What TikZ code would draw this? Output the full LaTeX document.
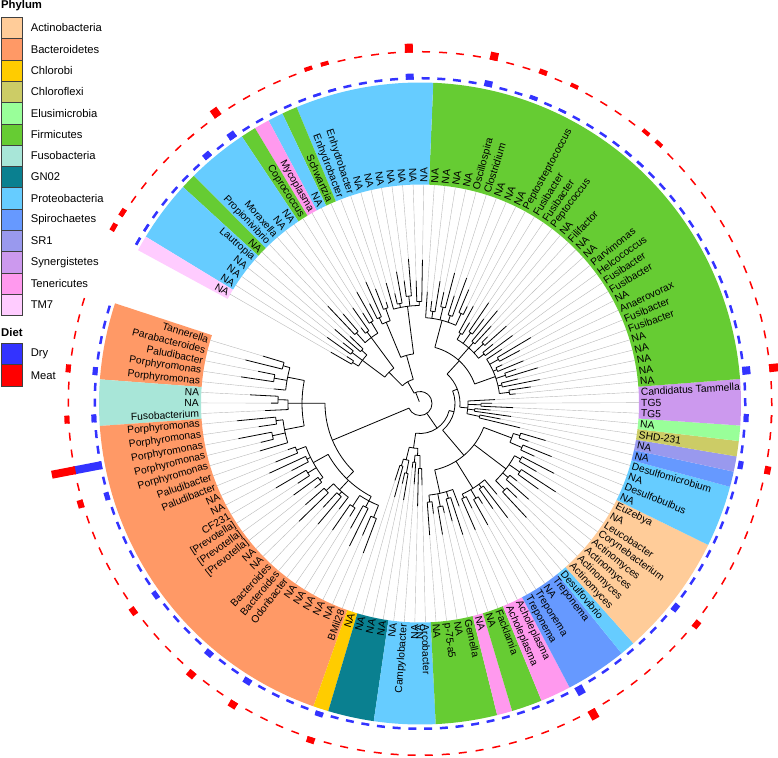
\documentclass[tikz,border=0pt]{standalone}
\usepackage{fontspec}
\setmainfont{Liberation Sans}
\usetikzlibrary{positioning}

\definecolor{cActino}{HTML}{FFCC99}
\definecolor{cBacter}{HTML}{FF9966}
\definecolor{cChlorobi}{HTML}{FFCC00}
\definecolor{cChloroflexi}{HTML}{CCCC66}
\definecolor{cElusi}{HTML}{99FF99}
\definecolor{cFirmi}{HTML}{66CC33}
\definecolor{cFuso}{HTML}{A8E6D8}
\definecolor{cGN}{HTML}{0A8090}
\definecolor{cProteo}{HTML}{66CCFF}
\definecolor{cSpiro}{HTML}{6699FF}
\definecolor{cSR}{HTML}{9999EE}
\definecolor{cSynerg}{HTML}{CC99EE}
\definecolor{cTeneri}{HTML}{FF99EE}
\definecolor{cTM}{HTML}{FFCCFF}
\definecolor{cDry}{HTML}{3333FF}
\definecolor{cMeat}{HTML}{FF0000}

\def\angstart{163.2}
\def\angstep{2.775}
\def\rin{219}
\def\rout{321}
\def\rdry{324}
\def\rmeat{351}

% terminal branch of tip #1 starting at radius #2
\newcommand\tipline[2]{%
  \pgfmathsetmacro\tipang{\angstart+(#1-1)*\angstep}%
  \pgfmathsetmacro\rtip{#2+6+mod(#1*53,37)}%
  \draw[branch] (\tipang:#2) -- (\tipang:\rtip);
  \draw[guide] (\tipang:\rtip) -- (\tipang:\rin);
}

\begin{document}
\begin{tikzpicture}[x=1pt, y=1pt,
  branch/.style={black, line width=0.8pt},
  guide/.style={gray!55, line width=0.4pt},
  tiplab/.style={font=\fontsize{10.3}{12}\selectfont, inner sep=1pt},
  legbox/.style={draw=black!75, line width=0.6pt, minimum width=21pt, minimum height=21.3pt, inner sep=0pt},
  leglab/.style={font=\fontsize{11.2}{13}\selectfont, inner sep=0pt},
  legtitle/.style={font=\bfseries\fontsize{11.3}{13}\selectfont, inner sep=0pt},
  drybar/.style={cDry, line width=8pt},
  meatbar/.style={cMeat, line width=8pt}]
\useasboundingbox (0,0) rectangle (778,-757);

% legend
\node[legtitle, anchor=west] (phylum) at (1,-6) {Phylum};
\foreach \col/\name [count=\i from 0] in {cActino/Actinobacteria, cBacter/Bacteroidetes,
    cChlorobi/Chlorobi, cChloroflexi/Chloroflexi, cElusi/Elusimicrobia, cFirmi/Firmicutes,
    cFuso/Fusobacteria, cGN/GN02, cProteo/Proteobacteria, cSpiro/Spirochaetes, cSR/SR1,
    cSynerg/Synergistetes, cTeneri/Tenericutes, cTM/TM7}{
  \node[legbox, fill=\col, anchor=north west] (box\i) at (1,{-17-21.3*\i}) {};
  \node[leglab, right=8pt of box\i] (name\i) {\name};
}
\node[legtitle, anchor=west] (diet) at (1,-332) {Diet};
\node[legbox, fill=cDry, anchor=north west] (dry) at (1,-343) {};
\node[leglab, right=8pt of dry] (drylab) {Dry};
\node[legbox, fill=cMeat, anchor=north west] (meat) at (1,-364.3) {};
\node[leglab, right=8pt of meat] (meatlab) {Meat};

\begin{scope}[shift={(420,-403.5)}]
% phylum ring
\foreach \ia/\ib/\col in {1/5/cBacter, 6/8/cFuso, 9/32/cBacter, 33/33/cChlorobi, 34/36/cGN,
    37/40/cProteo, 41/44/cFirmi, 45/45/cTeneri, 46/47/cFirmi, 48/49/cTeneri, 50/53/cSpiro,
    54/54/cProteo, 55/62/cActino, 63/66/cProteo, 67/67/cSpiro, 68/68/cSR, 69/69/cChloroflexi,
    70/70/cElusi, 71/73/cSynerg, 74/103/cFirmi, 104/112/cProteo, 113/113/cFirmi,
    114/114/cProteo, 115/115/cTeneri, 116/116/cFirmi, 117/120/cProteo, 121/121/cFirmi,
    122/125/cProteo, 126/126/cTM}{
  \pgfmathsetmacro\ta{\angstart+(\ia-1.5)*\angstep}
  \pgfmathsetmacro\tb{\angstart+(\ib-0.5)*\angstep}
  \fill[\col] (\ta:\rin) arc[start angle=\ta, end angle=\tb, radius=\rin]
    -- (\tb:\rout) arc[start angle=\tb, end angle=\ta, radius=\rout] -- cycle;
}

% inner nodes: arc from/to, stem position, radius, parent radius
\foreach \s/\e/\p/\r/\q in {15.25/115/112/12/2,
    7/23.5/15.25/95/12, 3/11/7/118/95, 17.5/29.5/23.5/105/95,
    36.5/67/52/30/12, 34.5/38.5/36.5/45/30, 54/79.5/67/35/30, 44/64.5/54/68/35,
    70/89/79.5/40/35, 79/99/89/58/40,
    110/120.5/115/25/12, 107/112.5/110/50/25, 117.5/123.5/120.5/44/25}{
  \pgfmathsetmacro\ts{\angstart+(\s-1)*\angstep}
  \pgfmathsetmacro\te{\angstart+(\e-1)*\angstep}
  \pgfmathsetmacro\tp{\angstart+(\p-1)*\angstep}
  \draw[branch] (\ts:\r) arc[start angle=\ts, end angle=\te, radius=\r];
  \draw[branch] (\tp:\q) -- (\tp:\r);
}

% leaf clusters: first tip, last tip, radius, parent radius
\foreach \ia/\ib/\r/\q in {1/5/135/118, 6/8/132/118, 9/13/138/118,
    14/21/122/105, 22/26/118/105, 27/32/110/105,
    33/36/58/45, 37/40/52/45,
    41/47/92/68, 48/54/100/68, 55/62/108/68, 63/66/98/68,
    67/73/48/40, 74/84/80/58, 85/94/74/58, 95/103/86/58,
    104/110/98/50, 111/114/88/50, 115/120/82/44, 121/126/72/44}{
  \pgfmathsetmacro\tm{\angstart+((\ia+\ib)/2-1)*\angstep}
  \draw[branch] (\tm:\q) -- (\tm:\r);
  \pgfmathtruncatemacro\n{\ib-\ia+1}
  \pgfmathsetmacro\fa{\angstart+(\ia-0.5)*\angstep}
  \pgfmathsetmacro\la{\angstart+(ifthenelse(mod(\n,2)==0,\ib-0.5,\ib)-1)*\angstep}
  \draw[branch] (\fa:\r) arc[start angle=\fa, end angle=\la, radius=\r];
  \foreach \k in {\ia,...,\ib}{
    \pgfmathtruncatemacro\odd{mod(\k-\ia,2)}
    \ifnum\odd=0
      \ifnum\k<\ib
        \pgfmathtruncatemacro\kn{\k+1}
        \pgfmathsetmacro\rp{\r+4+mod(\k,4)*3}
        \pgfmathsetmacro\tka{\angstart+(\k-1)*\angstep}
        \pgfmathsetmacro\tkb{\angstart+\k*\angstep}
        \pgfmathsetmacro\tkm{\angstart+(\k-0.5)*\angstep}
        \draw[branch] (\tkm:\r) -- (\tkm:\rp);
        \draw[branch] (\tka:\rp) arc[start angle=\tka, end angle=\tkb, radius=\rp];
        \tipline{\k}{\rp}
        \tipline{\kn}{\rp}
      \else
        \tipline{\k}{\r}
      \fi
    \fi
  }
}

% tip labels
\foreach \lab [count=\k] in {Tannerella, Parabacteroides, Paludibacter, Porphyromonas,
    Porphyromonas, NA, NA, Fusobacterium,
    Porphyromonas, Porphyromonas, Porphyromonas, Porphyromonas, Porphyromonas,
    Paludibacter, Paludibacter, NA, NA, CF231, {[Prevotella]}, {[Prevotella]}, {[Prevotella]},
    NA, NA, Bacteroides, Bacteroides, Odoribacter, NA, NA, NA, NA, NA, BMil28,
    NA, NA, NA, NA,
    NA, Campylobacter, NA, Arcobacter,
    NA, p-75-a5, NA, Gemella, NA, NA, Facklamia, Acholeplasma, Acholeplasma,
    Treponema, Treponema, NA, Treponema, Desulfovibrio,
    Actinomyces, Actinomyces, Actinomyces, Actinomyces, Corynebacterium, Leucobacter, NA, Euzebya,
    NA, Desulfobulbus, NA, Desulfomicrobium, NA, NA, SHD-231, NA,
    TG5, TG5, Candidatus Tammella,
    NA, NA, NA, NA, NA, Fusibacter, Fusibacter, Anaerovorax, NA, Fusibacter, Fusibacter,
    Helcococcus, Parvimonas, NA, NA, Filifactor, NA, Peptococcus, Fusibacter, Fusibacter,
    Peptostreptococcus, NA, NA, NA, Clostridium, Oscillospira,
    NA, NA, NA, NA, NA, NA, NA, NA, NA, NA, NA,
    Enhydrobacter, Enhydrobacter, Schwartzia, NA, Mycoplasma, Coprococcus,
    NA, NA, Moraxella, Propionivibrio, NA, Lautropia, NA, NA, NA, NA}{
  \pgfmathsetmacro\tk{\angstart+(\k-1)*\angstep}
  \pgfmathtruncatemacro\isleft{cos(\tk)<0}
  \ifnum\isleft=1
    \pgfmathsetmacro\rot{\tk-180}
    \node[tiplab, anchor=east, rotate=\rot] (lab\k) at (\tk:220) {\lab};
  \else
    \node[tiplab, anchor=west, rotate=\tk] (lab\k) at (\tk:220) {\lab};
  \fi
}
% second overlapping label at tip 39
\pgfmathsetmacro\tk{\angstart+38.45*\angstep}
\node[tiplab, anchor=east, rotate=\tk-180] (labx) at (\tk:220) {NA};

% diet bars
\foreach \k in {1,...,126}{
  \pgfmathsetmacro\tk{\angstart+(\k-1)*\angstep}
  \draw[drybar] (\tk:\rdry) -- (\tk:326.5);
  \draw[meatbar] (\tk:\rmeat) -- (\tk:352.5);
}
\foreach \k/\hb/\hr in {5/5/5, 8/5/5, 11/28/24, 13/5/6, 20/5/6, 25/6/7, 28/6/7, 33/5/6,
    50/9/10, 58/6/6, 68/5/6, 71/5/1.5, 74/8/9, 89/2.5/4, 90/2.5/4, 95/2.5/4, 97/4/5,
    100/6/8, 105/6/9, 110/2.5/4, 111/2.5/4, 117/7/9, 119/6/1.5, 125/2.5/5, 126/2.5/5}{
  \pgfmathsetmacro\tk{\angstart+(\k-1)*\angstep}
  \pgfmathsetmacro\rb{\rdry+\hb}
  \pgfmathsetmacro\rr{\rmeat+\hr}
  \draw[drybar] (\tk:\rdry) -- (\tk:\rb);
  \draw[meatbar] (\tk:\rmeat) -- (\tk:\rr);
}
\end{scope}
\end{tikzpicture}
\end{document}
